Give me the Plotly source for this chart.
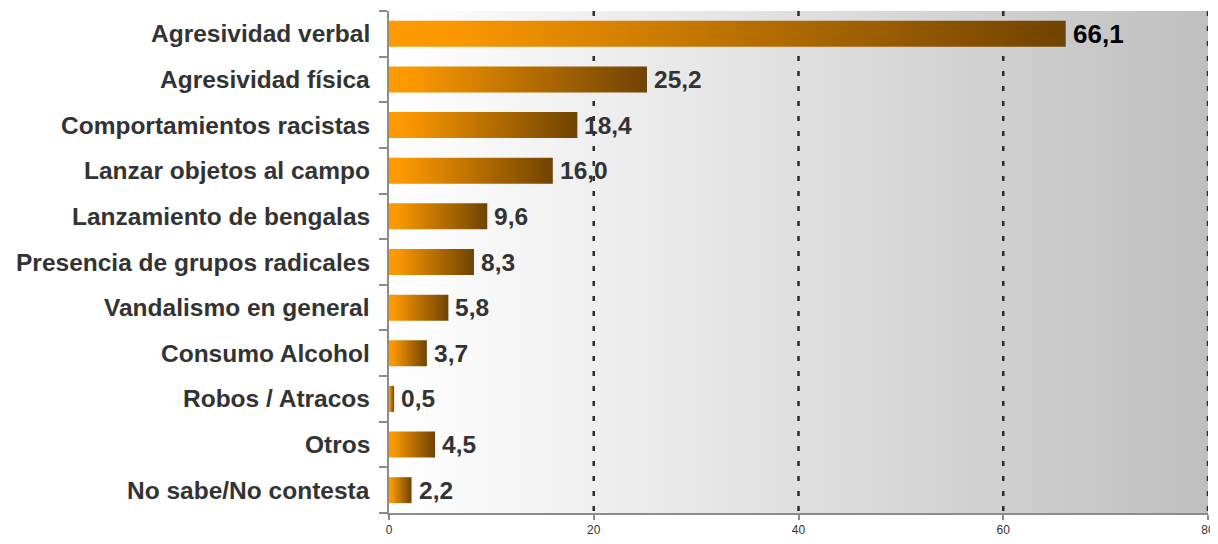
import plotly.graph_objects as go

categories = ["Agresividad verbal", "Agresividad física", "Comportamientos racistas",
              "Lanzar objetos al campo", "Lanzamiento de bengalas",
              "Presencia de grupos radicales", "Vandalismo en general",
              "Consumo Alcohol", "Robos / Atracos", "Otros", "No sabe/No contesta"]
values = [66.1, 25.2, 18.4, 16.0, 9.6, 8.3, 5.8, 3.7, 0.5, 4.5, 2.2]
x_ticks = [0, 20, 40, 60, 80]

FONT = "Liberation Sans, Arial, sans-serif"
n = len(categories)
half = 0.285
xmax = 80

fig = go.Figure()

# gradient plot background
fig.add_trace(go.Scatter(
    x=[0, xmax, xmax, 0, 0], y=[-0.5, -0.5, n - 0.5, n - 0.5, -0.5],
    mode="lines", line=dict(width=0), fill="toself",
    fillgradient=dict(type="horizontal", colorscale=[[0, "#ffffff"], [1, "#bfbfbf"]],
                      start=0, stop=xmax),
    hoverinfo="skip", showlegend=False))

# dashed gridlines
for t in x_ticks[1:]:
    fig.add_trace(go.Scatter(
        x=[t, t], y=[-0.5, n - 0.5], mode="lines",
        line=dict(color="#2b2b2b", width=2.5, dash="5px,10px"),
        hoverinfo="skip", showlegend=False))

# bars with horizontal gradient
for i, v in enumerate(values):
    yc = i
    fig.add_trace(go.Scatter(
        x=[0, v, v, 0, 0], y=[yc - half, yc - half, yc + half, yc + half, yc - half],
        mode="lines", line=dict(width=0), fill="toself",
        fillgradient=dict(type="horizontal",
                          colorscale=[[0, "#FF9A00"], [0.1, "#FA9700"], [1, "#704300"]]),
        hoverinfo="skip", showlegend=False))

# value labels
labels = [f"{v:.1f}".replace(".", ",") for v in values]
for i, (v, lab) in enumerate(zip(values, labels)):
    top = i == 0
    fig.add_annotation(x=v, xref="x", y=i, yref="y", text=lab, showarrow=False,
                       xanchor="left", xshift=5,
                       font=dict(family=FONT, size=26 if top else 24.5,
                                 color="#000000" if top else "#333333", weight="bold"))

# category labels
for i, c in enumerate(categories):
    fig.add_annotation(x=0, xref="paper", y=i, yref="y", text=c, showarrow=False,
                       xanchor="right", xshift=-17,
                       font=dict(family=FONT, size=24.5, color="#333333", weight="bold"))

# page body has an 8px margin: figure sits at (8, 8)
fig.update_layout(
    width=1210, height=528,
    margin=dict(l=381, r=10, t=3, b=23, autoexpand=False),
    paper_bgcolor="white", plot_bgcolor="white",
    xaxis=dict(range=[0, xmax], tickvals=x_ticks, showgrid=False, zeroline=False,
               showline=True, linecolor="#8c8c8c", linewidth=2,
               ticks="outside", ticklen=5, tickcolor="#8c8c8c", tickwidth=2,
               tickfont=dict(family=FONT, size=12, color="#333333")),
    yaxis=dict(range=[n - 0.5, -0.5], tickvals=[i - 0.5 for i in range(n + 1)],
               ticktext=[""] * (n + 1), showgrid=False, zeroline=False,
               showline=True, linecolor="#8c8c8c", linewidth=2,
               ticks="outside", ticklen=8, tickcolor="#8c8c8c", tickwidth=2),
)

fig.write_html("out.html")
